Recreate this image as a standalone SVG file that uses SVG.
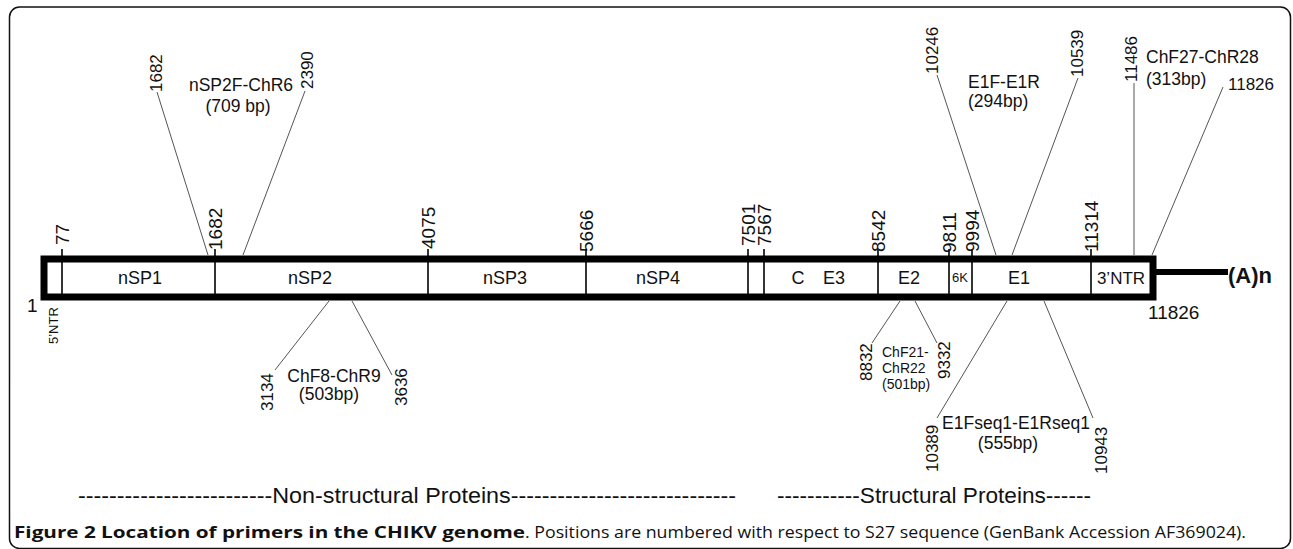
<svg xmlns="http://www.w3.org/2000/svg" width="1293" height="549" viewBox="0 0 1293 549">
<style>
text{font-family:"Liberation Sans",Arial,sans-serif;fill:#111}
.num{font-size:17px}
.pos{font-size:19px}
.seg{font-size:18px;text-anchor:middle}
.lbl{font-size:17.5px}
.sm{font-size:14px}
.div{stroke:#000;stroke-width:1.6}
#connectors line{stroke:#555;stroke-width:1}
.cap{font-family:"Open Sans","Noto Sans",sans-serif;font-size:16px}
</style>
<rect id="frame" x="9.5" y="7" width="1281" height="541.5" rx="10" fill="#fff" stroke="#111" stroke-width="1.5"/>

<g id="connectors">
<line x1="157" y1="92" x2="208" y2="255"/>
<line x1="305" y1="91" x2="243" y2="255"/>
<line x1="329" y1="301" x2="275" y2="370"/>
<line x1="352" y1="301" x2="392" y2="375"/>
<line x1="900" y1="301" x2="872" y2="343"/>
<line x1="915" y1="301" x2="937" y2="343"/>
<line x1="1007" y1="301" x2="937" y2="418"/>
<line x1="1044" y1="301" x2="1093" y2="418"/>
<line x1="937" y1="75" x2="996" y2="255"/>
<line x1="1078" y1="78" x2="1012" y2="255"/>
<line x1="1134" y1="83" x2="1134" y2="255"/>
<line x1="1223" y1="87" x2="1152" y2="255"/>
</g>

<g id="genome">
<line x1="1156" y1="272" x2="1228" y2="272" stroke="#000" stroke-width="6"/>
<rect x="44" y="259" width="1109" height="38" fill="#fff" stroke="#000" stroke-width="7"/>
<line class="div" x1="62" y1="249" x2="62" y2="297"/>
<line class="div" x1="215" y1="249" x2="215" y2="297"/>
<line class="div" x1="428" y1="249" x2="428" y2="297"/>
<line class="div" x1="586" y1="249" x2="586" y2="297"/>
<line class="div" x1="748" y1="249" x2="748" y2="297"/>
<line class="div" x1="764" y1="249" x2="764" y2="297"/>
<line class="div" x1="878" y1="249" x2="878" y2="297"/>
<line class="div" x1="949" y1="249" x2="949" y2="297"/>
<line class="div" x1="972" y1="249" x2="972" y2="297"/>
<line class="div" x1="1091" y1="249" x2="1091" y2="297"/>
<text class="seg" x="140" y="284">nSP1</text>
<text class="seg" x="310" y="284">nSP2</text>
<text class="seg" x="505" y="284">nSP3</text>
<text class="seg" x="658" y="284">nSP4</text>
<text class="seg" x="798" y="284">C</text>
<text class="seg" x="834" y="284">E3</text>
<text class="seg" x="909" y="284">E2</text>
<text x="960" y="282" style="font-size:13px;text-anchor:middle">6K</text>
<text class="seg" x="1019" y="284">E1</text>
<text x="1121" y="284" style="font-size:17px;text-anchor:middle">3’NTR</text>
<text x="1228" y="283" style="font-size:22px;font-weight:bold">(A)n</text>
</g>

<g id="positions">
<text class="pos" transform="translate(69,245) rotate(-90)">77</text>
<text class="pos" transform="translate(222,250) rotate(-90)">1682</text>
<text class="pos" transform="translate(435,249) rotate(-90)">4075</text>
<text class="pos" transform="translate(593,252) rotate(-90)">5666</text>
<text class="pos" transform="translate(755,246) rotate(-90)">7501</text>
<text class="pos" transform="translate(771,246) rotate(-90)">7567</text>
<text class="pos" transform="translate(885,252) rotate(-90)">8542</text>
<text class="pos" transform="translate(956,253) rotate(-90)">9811</text>
<text class="pos" transform="translate(979,252) rotate(-90)">9994</text>
<text class="pos" transform="translate(1098,252) rotate(-90)">11314</text>
<text class="pos" x="27" y="312">1</text>
<text transform="translate(58,344) rotate(-90)" style="font-size:13px">5’NTR</text>
<text class="pos" x="1148" y="319">11826</text>
</g>

<g id="primer-nSP2F-ChR6">
<text class="num" transform="translate(162,92) rotate(-90)">1682</text>
<text class="num" transform="translate(313,89) rotate(-90)">2390</text>
<text class="lbl" x="241" y="91" text-anchor="middle">nSP2F-ChR6</text>
<text class="lbl" x="238" y="112" text-anchor="middle">(709 bp)</text>
</g>

<g id="primer-ChF8-ChR9">
<text class="num" transform="translate(273,411) rotate(-90)">3134</text>
<text class="num" transform="translate(407,406) rotate(-90)">3636</text>
<text class="lbl" x="334" y="382" text-anchor="middle">ChF8-ChR9</text>
<text class="lbl" x="329" y="400" text-anchor="middle">(503bp)</text>
</g>

<g id="primer-ChF21-ChR22">
<text class="num" transform="translate(872,381) rotate(-90)">8832</text>
<text class="num" transform="translate(950,379) rotate(-90)">9332</text>
<text class="sm" x="882" y="357">ChF21-</text>
<text class="sm" x="882" y="373">ChR22</text>
<text class="sm" x="882" y="389">(501bp)</text>
</g>

<g id="primer-E1Fseq1-E1Rseq1">
<text class="num" transform="translate(938,472) rotate(-90)">10389</text>
<text class="num" transform="translate(1107,474) rotate(-90)">10943</text>
<text class="lbl" x="1016" y="429" text-anchor="middle">E1Fseq1-E1Rseq1</text>
<text class="lbl" x="1008" y="449" text-anchor="middle">(555bp)</text>
</g>

<g id="primer-E1F-E1R">
<text class="num" transform="translate(938,74) rotate(-90)">10246</text>
<text class="num" transform="translate(1083,77) rotate(-90)">10539</text>
<text class="lbl" x="968" y="88">E1F-E1R</text>
<text class="lbl" x="968" y="107">(294bp)</text>
</g>

<g id="primer-ChF27-ChR28">
<text class="num" transform="translate(1137,82) rotate(-90)">11486</text>
<text class="lbl" x="1146" y="63">ChF27-ChR28</text>
<text class="lbl" x="1146" y="85">(313bp)</text>
<text class="num" x="1228" y="90">11826</text>
</g>

<g id="sections">
<text x="78" y="503" style="font-size:22px" textLength="658" lengthAdjust="spacingAndGlyphs">-------------------------Non-structural Proteins-----------------------------</text>
<text x="777" y="503" style="font-size:22px" textLength="314" lengthAdjust="spacingAndGlyphs">-----------Structural Proteins------</text>
</g>

<g id="caption">
<text class="cap" y="538"><tspan x="14" font-weight="bold" textLength="511" lengthAdjust="spacingAndGlyphs">Figure 2 Location of primers in the CHIKV genome</tspan><tspan textLength="721" lengthAdjust="spacingAndGlyphs">. Positions are numbered with respect to S27 sequence (GenBank Accession AF369024).</tspan></text>
</g>
</svg>
